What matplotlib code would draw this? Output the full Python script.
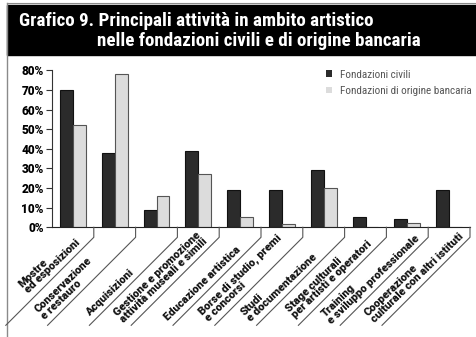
import matplotlib
matplotlib.use("Agg")
import matplotlib.pyplot as plt
import numpy as np
from matplotlib.lines import Line2D
from matplotlib.patches import Rectangle

plt.rcParams['font.family'] = ['Roboto Condensed', 'DejaVu Sans']
wide = ['Roboto', 'DejaVu Sans']

categories = [
    "Mostre\ned esposizioni",
    "Conservazione\ne restauro",
    "Acquisizioni",
    "Gestione e promozione\nattività museali e simili",
    "Educazione artistica",
    "Borse di studio, premi\ne concorsi",
    "Studi\ne documentazione",
    "Stage culturali\nper artisti e operatori",
    "Training\ne sviluppo professionale",
    "Cooperazione\nculturale con altri istituti",
]
civili = [70, 38, 9, 39, 19, 19, 29, 5, 4, 19]
bancaria = [52, 78, 16, 27, 5, 1.5, 20, 0, 2, 0]
yticks = [0, 10, 20, 30, 40, 50, 60, 70, 80]
title1 = "Grafico 9. Principali attività in ambito artistico"
title2 = "nelle fondazioni civili e di origine bancaria"

# how far down its leader line each label sits (pixels)
label_drop = [10, 34, 40, 8, 16, 11, 24, 11, 5, 3]

W, H = 476, 337
fig = plt.figure(figsize=(W / 100, H / 100), dpi=100)

# frame and title bar
fig.add_artist(Line2D([7 / W, 7 / W], [0, 1 - 3 / H], color='#8a8a8a', lw=1.0))
fig.add_artist(Line2D([7 / W, 1], [1 - 3 / H, 1 - 3 / H], color='#8a8a8a', lw=0.8))
fig.add_artist(Rectangle((7 / W, 1 - 55 / H), 1 - 7 / W, 50 / H,
                         transform=fig.transFigure, color='black', zorder=0))
t1 = fig.text(19 / W, 1 - 21 / H, title1, color='white', fontsize=13, fontweight='bold',
              va='center', ha='left')
t2 = fig.text(97 / W, 1 - 41 / H, title2, color='white', fontsize=13, fontweight='bold',
              va='center', ha='left')

ax = fig.add_axes([52 / W, (H - 227.3) / H, (470 - 52) / W, (227.3 - 70.3) / H])
x = np.arange(len(categories))
bw = 0.31
ax.bar(x - bw / 2, civili, bw, color='#2b2b2b', edgecolor='#111111', lw=0.8,
       label='Fondazioni civili')
ax.bar(x + bw / 2, bancaria, bw, color='#dcdcdc', edgecolor='#555555', lw=0.8,
       label='Fondazioni di origine bancaria')

ax.set_xlim(-0.5, len(categories) - 0.5)
ax.set_ylim(0, 80)
ax.set_yticks(yticks)
ax.set_yticklabels([f"{v}%" for v in yticks], fontsize=8.5, fontweight='heavy',
                   family=wide)
ax.set_xticks([])
for s in ['top', 'right']:
    ax.spines[s].set_visible(False)
ax.spines['left'].set_color('#333333')
ax.spines['bottom'].set_color('#222222')
ax.tick_params(axis='y', direction='out', length=4, width=0.8, color='#333333', pad=2)

leg = ax.legend(loc='upper left', bbox_to_anchor=(326 / W, 1 - 69.5 / H),
                bbox_transform=fig.transFigure, frameon=False, fontsize=8,
                handlelength=0.5, handleheight=0.5, handletextpad=0.75,
                labelspacing=0.6, borderpad=0, borderaxespad=0)
for t in leg.get_texts():
    t.set_color('#555555')
for p in leg.get_patches():
    p.set_edgecolor('none')

# fit title and labels to the widths they have in the original
fig.canvas.draw()
r = fig.canvas.get_renderer()
size = 13 * 351 / t1.get_window_extent(r).width
t1.set_fontsize(size)
t2.set_fontsize(size)
probe = fig.text(0, 0, "culturale con altri istituti", fontsize=8, fontweight='heavy',
                 family=wide)
lsize = 8 * 124 / probe.get_window_extent(r).width
probe.remove()

# dividers with diagonal leader lines and labels
inv = fig.transFigure.inverted()
drop, diag = 10, 88
for i, lab in enumerate(categories):
    bx, by = ax.transData.transform((i + 0.5, 0))
    top = by - drop
    pts = np.array([[bx, by], [bx, top], [bx - diag, top - diag]])
    fpts = inv.transform(pts)
    fig.add_artist(Line2D(fpts[:, 0], fpts[:, 1], color='#555555', lw=0.8))
    dd = label_drop[i]
    fx, fy = inv.transform((bx - dd - 2.0, top - dd + 2.0))
    fig.text(fx, fy, lab, rotation=44, rotation_mode='anchor', ha='right', va='bottom',
             multialignment='left', fontsize=lsize, fontweight='heavy', family=wide,
             linespacing=0.85, color='#111111')

fig.savefig("out.png", dpi=100)
